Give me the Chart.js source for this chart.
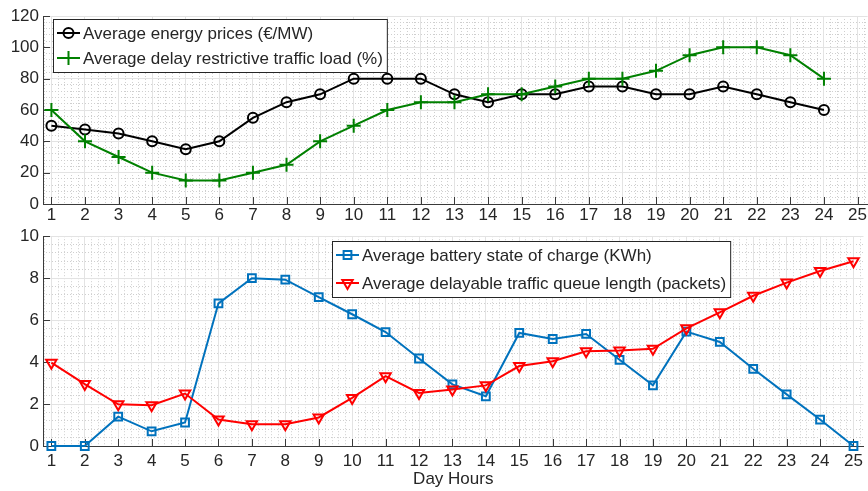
<!DOCTYPE html>
<html>
<head>
<meta charset="utf-8">
<script src="https://cdn.jsdelivr.net/npm/chart.js@4.4.1/dist/chart.umd.min.js"></script>
<style>
  body { margin: 0; background: #fff; }
  canvas { display: block; }
</style>
</head>
<body>
<canvas id="top-chart" width="868" height="222"></canvas>
<canvas id="bottom-chart" width="868" height="269"></canvas>
<script>
// ---- data ----
const hours = [1, 2, 3, 4, 5, 6, 7, 8, 9, 10, 11, 12, 13, 14, 15, 16, 17, 18, 19, 20, 21, 22, 23, 24, 25];

const energyPrices = [50, 47.5, 45, 40, 35, 40, 55, 65, 70, 80, 80, 80, 70, 65, 70, 70, 75, 75, 70, 70, 75, 70, 65, 60];
const restrictiveLoad = [60, 40, 30, 20, 15, 15, 20, 25, 40, 50, 60, 65, 65, 70, 70, 75, 80, 80, 85, 95, 100, 100, 95, 80];

const batteryCharge = [0, 0, 1.4, 0.7, 1.12, 6.8, 8.0, 7.93, 7.1, 6.28, 5.43, 4.17, 2.94, 2.37, 5.39, 5.1, 5.34, 4.11, 2.89, 5.45, 4.96, 3.68, 2.46, 1.26, 0];
const queueLength = [3.97, 2.95, 1.99, 1.94, 2.5, 1.26, 1.04, 1.04, 1.36, 2.29, 3.33, 2.53, 2.69, 2.89, 3.81, 4.04, 4.52, 4.55, 4.63, 5.61, 6.37, 7.16, 7.79, 8.34, 8.81];

const topYTicks = [0, 20, 40, 60, 80, 100, 120];
const bottomYTicks = [0, 2, 4, 6, 8, 10];

const X_MIN = 0.75;
const X_MAX = 25.3;

const FONT_FAMILY = '"Liberation Sans", Arial, Helvetica, sans-serif';
const FONT_SIZE = 17;
const TEXT_COLOR = '#262626';
const AXIS_COLOR = '#3a3a3a';
const GRID_COLOR = '#e3e3e3';
const MINOR_COLOR = '#cfcfcf';

Chart.defaults.font.family = FONT_FAMILY;
Chart.defaults.font.size = FONT_SIZE;
Chart.defaults.color = TEXT_COLOR;

const toPoints = (vals) => vals.map((v, i) => ({ x: hours[i], y: v }));

// ---- plugins ----
// boxed legend drawn inside the plot area, MATLAB style
const boxLegend = {
  id: 'boxLegend',
  afterDatasetsDraw(chart, args, opts) {
    const ctx = chart.ctx;
    const sets = chart.data.datasets;
    ctx.save();
    ctx.font = FONT_SIZE + 'px ' + FONT_FAMILY;
    const textW = Math.max(...sets.map(d => ctx.measureText(d.label).width));
    const w = opts.lineLen + 6 + textW + 5;
    const h = opts.firstRow * 2 + opts.rowH * (sets.length - 1);
    ctx.fillStyle = '#fff';
    ctx.fillRect(opts.x, opts.y, w, h);
    ctx.strokeStyle = '#262626';
    ctx.lineWidth = 1;
    ctx.strokeRect(opts.x + 0.5, opts.y + 0.5, w, h);
    sets.forEach((d, i) => {
      const cy = opts.y + opts.firstRow + i * opts.rowH;
      const x0 = opts.x + 4;
      const x1 = x0 + opts.lineLen;
      ctx.strokeStyle = d.borderColor;
      ctx.lineWidth = d.borderWidth;
      ctx.beginPath();
      ctx.moveTo(x0, cy);
      ctx.lineTo(x1, cy);
      ctx.stroke();
      ctx.fillStyle = 'rgba(0,0,0,0)';
      ctx.lineWidth = d.pointBorderWidth;
      Chart.helpers.drawPoint(ctx, {
        pointStyle: d.pointStyle,
        radius: d.pointRadius,
        rotation: d.pointRotation || 0,
        borderWidth: d.pointBorderWidth
      }, (x0 + x1) / 2, cy);
      ctx.fillStyle = TEXT_COLOR;
      ctx.textBaseline = 'middle';
      ctx.textAlign = 'left';
      ctx.fillText(d.label, x1 + 3, cy + 1);
    });
    ctx.restore();
  }
};

// tick marks pointing into the plot area
const innerTicks = {
  id: 'innerTicks',
  beforeDatasetsDraw(chart) {
    const ctx = chart.ctx;
    const area = chart.chartArea;
    ctx.save();
    ctx.strokeStyle = AXIS_COLOR;
    ctx.lineWidth = 1;
    ctx.beginPath();
    chart.scales.x.ticks.forEach(t => {
      const px = Math.round(chart.scales.x.getPixelForValue(t.value)) + 0.5;
      ctx.moveTo(px, area.bottom);
      ctx.lineTo(px, area.bottom - 7);
    });
    chart.scales.y.ticks.forEach(t => {
      const py = Math.round(chart.scales.y.getPixelForValue(t.value)) + 0.5;
      ctx.moveTo(area.left, py);
      ctx.lineTo(area.left + 7, py);
    });
    ctx.stroke();
    ctx.restore();
  }
};

function minorTicks(from, to, step, major) {
  const out = [];
  for (let k = Math.round(from / step); k * step <= to + 1e-9; k++) {
    const v = +(k * step).toFixed(4);
    if (Math.abs(v / major - Math.round(v / major)) > 1e-6) out.push({ value: v });
  }
  return out;
}

function buildScales(yMax, yTicks, yMinorStep, xHeight, xPad, title) {
  const yMajor = yTicks[1] - yTicks[0];
  return {
    xm: {
      type: 'linear', position: 'bottom', min: X_MIN, max: X_MAX,
      ticks: { display: false },
      grid: { color: MINOR_COLOR, drawTicks: false, lineWidth: 1 },
      border: { display: false, dash: [1, 2] },
      afterBuildTicks: s => { s.ticks = minorTicks(0.8, 25.2, 0.2, 1); },
      afterFit: s => { s.height = 0; }
    },
    ym: {
      type: 'linear', position: 'left', min: 0, max: yMax,
      ticks: { display: false },
      grid: { color: MINOR_COLOR, drawTicks: false, lineWidth: 1 },
      border: { display: false, dash: [1, 2] },
      afterBuildTicks: s => { s.ticks = minorTicks(yMinorStep, yMax, yMinorStep, yMajor); },
      afterFit: s => { s.width = 0; }
    },
    x: {
      type: 'linear', position: 'bottom', min: X_MIN, max: X_MAX,
      afterBuildTicks: s => { s.ticks = hours.map(h => ({ value: h })); },
      ticks: { autoSkip: false, maxRotation: 0, padding: xPad, color: TEXT_COLOR },
      grid: { color: GRID_COLOR, drawTicks: false, lineWidth: 1 },
      border: { display: true, color: AXIS_COLOR, width: 1 },
      title: title ? { display: true, text: title, color: TEXT_COLOR, padding: { top: 0, bottom: 1 } } : { display: false },
      afterFit: s => { s.height = xHeight; }
    },
    y: {
      type: 'linear', position: 'left', min: 0, max: yMax,
      afterBuildTicks: s => { s.ticks = yTicks.map(v => ({ value: v })); },
      ticks: { padding: 4, color: TEXT_COLOR },
      grid: { color: GRID_COLOR, drawTicks: false, lineWidth: 1 },
      border: { display: true, color: AXIS_COLOR, width: 1 },
      afterFit: s => { s.width = 43; }
    }
  };
}

const baseOptions = {
  responsive: false,
  animation: false,
  plugins: { legend: { display: false }, tooltip: { enabled: false } },
  elements: { line: { tension: 0 } }
};

// ---- top chart ----
new Chart(document.getElementById('top-chart'), {
  type: 'line',
  data: {
    datasets: [{
      label: 'Average energy prices (€/MW)',
      data: toPoints(energyPrices),
      borderColor: '#000000',
      borderWidth: 2,
      pointStyle: 'circle',
      pointRadius: 5,
      pointBorderWidth: 2,
      pointBackgroundColor: 'rgba(0,0,0,0)',
      pointBorderColor: '#000000',
      clip: false,
      order: 2
    }, {
      label: 'Average delay restrictive traffic load (%)',
      data: toPoints(restrictiveLoad),
      borderColor: '#008000',
      borderWidth: 2,
      pointStyle: 'cross',
      pointRadius: 7,
      pointBorderWidth: 2,
      pointBorderColor: '#008000',
      clip: false,
      order: 1
    }]
  },
  options: {
    ...baseOptions,
    layout: { autoPadding: false, padding: { top: 16, right: -5, left: 0, bottom: 0 } },
    scales: buildScales(120, topYTicks, 4, 18, 1, null),
    plugins: {
      ...baseOptions.plugins,
      boxLegend: { x: 53, y: 19, lineLen: 23, firstRow: 14, rowH: 25 }
    }
  },
  plugins: [innerTicks, boxLegend]
});

// ---- bottom chart ----
new Chart(document.getElementById('bottom-chart'), {
  type: 'line',
  data: {
    datasets: [{
      label: 'Average battery state of charge (KWh)',
      data: toPoints(batteryCharge),
      borderColor: '#0072BD',
      borderWidth: 2,
      pointStyle: 'rect',
      pointRadius: 5.5,
      pointBorderWidth: 2,
      pointBackgroundColor: 'rgba(0,0,0,0)',
      pointBorderColor: '#0072BD',
      clip: false,
      order: 2
    }, {
      label: 'Average delayable traffic queue length (packets)',
      data: toPoints(queueLength),
      borderColor: '#FF0000',
      borderWidth: 2,
      pointStyle: 'triangle',
      pointRotation: 180,
      pointRadius: 6,
      pointBorderWidth: 2,
      pointBackgroundColor: 'rgba(0,0,0,0)',
      pointBorderColor: '#FF0000',
      clip: false,
      order: 1
    }]
  },
  options: {
    ...baseOptions,
    layout: { autoPadding: false, padding: { top: 13, right: -5, left: 0, bottom: 0 } },
    scales: buildScales(10, bottomYTicks, 0.4, 45, 5, 'Day Hours'),
    plugins: {
      ...baseOptions.plugins,
      boxLegend: { x: 332, y: 19, lineLen: 23, firstRow: 14, rowH: 28 }
    }
  },
  plugins: [innerTicks, boxLegend]
});
</script>
</body>
</html>
